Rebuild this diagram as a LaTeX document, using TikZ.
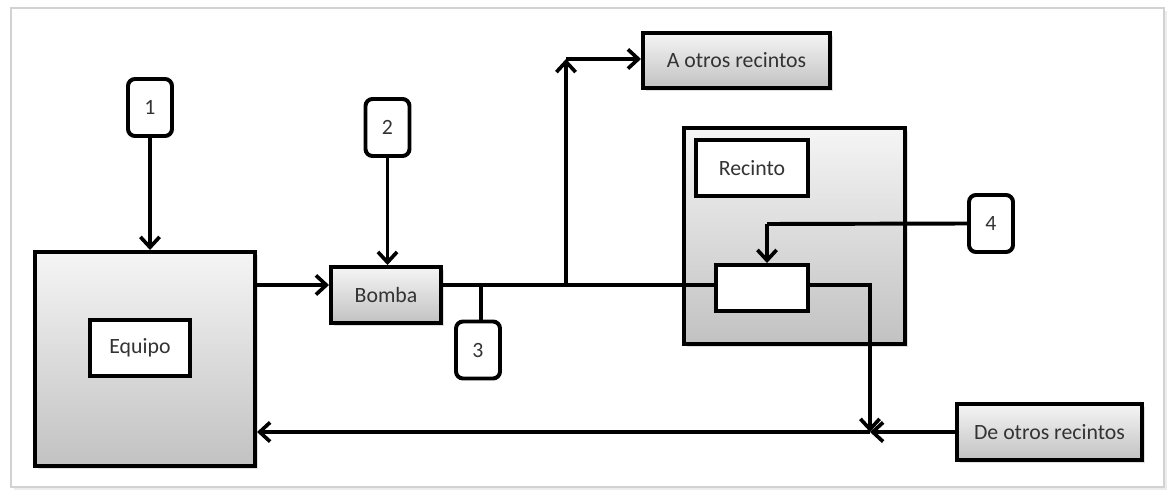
\documentclass[tikz,border=0pt]{standalone}
\usepackage{fontspec}
\setmainfont{Carlito}
\usetikzlibrary{arrows.meta,shadows}
\definecolor{txtgray}{HTML}{333333}
\begin{document}
\begin{tikzpicture}
[
	x=0.025cm, y=-0.025cm,
	every node/.style={font=\fontsize{15.5}{17}\selectfont, text=txtgray},
	unit/.style={draw, line width=2.8pt, top color=gray!8, bottom color=gray!48, drop shadow={opacity=0.25, shadow xshift=2pt, shadow yshift=-2pt}},
	lblbox/.style={draw, line width=2.8pt, fill=white},
	tag/.style={draw, line width=2.8pt, fill=white, rounded corners=5pt, minimum width=1.1cm, minimum height=1.425cm, inner sep=0pt},
	flow/.style={line width=2.8pt, -{Straight Barb[length=2.6mm, width=4.8mm, line width=2.6pt]}},
	pipe/.style={line width=2.8pt}
]

	\useasboundingbox (0,0) rectangle (1168,492);
	\draw[gray!35, line width=1pt, drop shadow={opacity=0.15, shadow xshift=2pt, shadow yshift=-2pt}, fill=white] (11,8) rectangle (1164,487);

	\node[unit, minimum width=5.5cm, minimum height=5.35cm] at (145,359) (equipo) {};
	\node[lblbox, minimum width=2.5cm, minimum height=1.4cm] at (140,348) (equipolbl) {Equipo};
	\node[unit, minimum width=2.75cm, minimum height=1.4cm] at (386,295) (bomba) {Bomba};
	\node[unit, minimum width=4.675cm, minimum height=1.375cm] at (736.5,60.5) (aotros) {A otros recintos};
	\node[unit, minimum width=5.525cm, minimum height=5.4cm] at (794.5,236) (recinto) {};
	\node[lblbox, minimum width=2.8cm, minimum height=1.4cm] at (752,168) (recintolbl) {Recinto};
	\node[lblbox, minimum width=2.3cm, minimum height=1.15cm] at (762,288) (inner) {};
	\node[unit, minimum width=4.625cm, minimum height=1.4cm] at (1049.5,432) (deotros) {De otros recintos};

	\node[tag] at (150,107.5) (t1) {1};
	\node[tag] at (387.5,127.5) (t2) {2};
	\node[tag] at (478,350) (t3) {3};
	\node[tag] at (991,223.5) (t4) {4};

	\coordinate (tee) at (481,285);
	\coordinate (split) at (566,285);
	\coordinate (up) at (566,59);
	\coordinate (drop) at (767,224);
	\coordinate (join) at (870,432);

	\draw[flow] (t1) -- (t1 |- equipo.north);
	\draw[flow] (t2) -- (t2 |- bomba.north);
	\draw[flow] (equipo.east |- tee) -- (bomba.west |- tee);
	\draw[pipe] (bomba.east |- tee) -- (inner.west |- tee);
	\draw[pipe] (tee) -- (tee |- t3.north);
	\draw[flow] (split) -- (up);
	\draw[flow] (up) -- (aotros.west |- up);
	\draw[pipe] (t4.west) -- (drop);
	\draw[flow] (drop) -- (drop |- inner.north);
	\draw[flow] (inner.east |- tee) -| (join);
	\draw[flow] (deotros.west) -- (join);
	\draw[flow] (join) -- (equipo.east |- join);

\end{tikzpicture}
\end{document}
